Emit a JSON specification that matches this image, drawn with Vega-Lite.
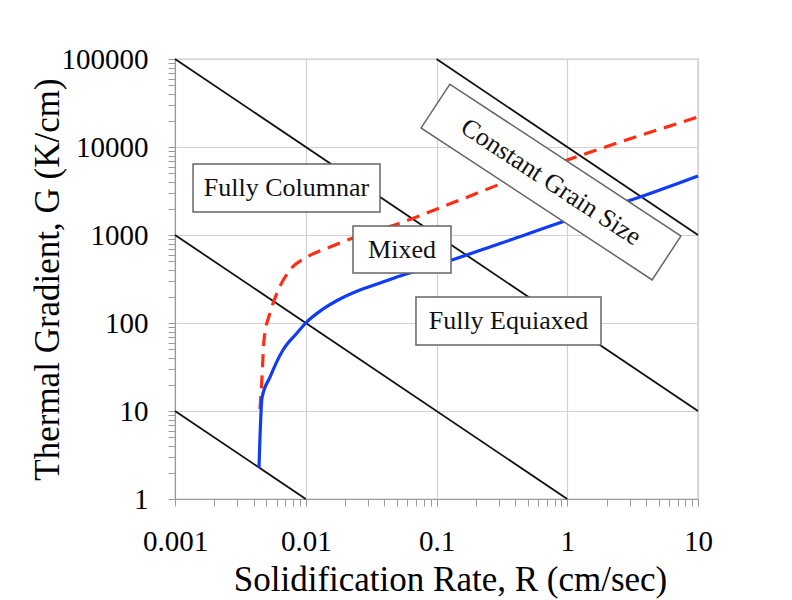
{
  "$schema": "https://vega.github.io/schema/vega-lite/v6.json",
  "width": 523,
  "height": 440,
  "autosize": {"type": "none"},
  "padding": {"left": 175, "top": 59, "right": 94, "bottom": 101},
  "background": "white",
  "config": {
    "view": {"stroke": "#9a9a9a", "strokeWidth": 1.2},
    "font": "Liberation Serif"
  },
  "datasets": {
    "lines": [
      {"grp": "a", "R": 0.001, "G": 100000}, {"grp": "a", "R": 10, "G": 10},
      {"grp": "b", "R": 0.001, "G": 1000}, {"grp": "b", "R": 1, "G": 1},
      {"grp": "c", "R": 0.001, "G": 10}, {"grp": "c", "R": 0.01, "G": 1},
      {"grp": "d", "R": 0.1, "G": 100000}, {"grp": "d", "R": 10, "G": 1000}
    ],
    "blue": [
      {"R": 0.004389, "G": 2.25}, {"R": 0.004628, "G": 14.06}, {"R": 0.005328, "G": 24.3},
      {"R": 0.006699, "G": 49.3}, {"R": 0.008573, "G": 76.9}, {"R": 0.01, "G": 100},
      {"R": 0.01355, "G": 144}, {"R": 0.01828, "G": 187.5}, {"R": 0.026, "G": 237},
      {"R": 0.03698, "G": 284.8}, {"R": 0.0526, "G": 342}, {"R": 0.1, "G": 456},
      {"R": 0.306, "G": 800}, {"R": 1, "G": 1469},
      {"R": 3.6, "G": 2700}, {"R": 10, "G": 4680}
    ],
    "red": [
      {"R": 0.004467, "G": 10.5}, {"R": 0.004628, "G": 24.3}, {"R": 0.004795, "G": 64.1},
      {"R": 0.005328, "G": 130}, {"R": 0.006026, "G": 219}, {"R": 0.007576, "G": 400},
      {"R": 0.01022, "G": 562}, {"R": 0.01533, "G": 731}, {"R": 0.02298, "G": 925},
      {"R": 0.0526, "G": 1368}, {"R": 0.1512, "G": 2500}, {"R": 0.3226, "G": 3898},
      {"R": 1, "G": 7117}, {"R": 10, "G": 21930}
    ],
    "boxes": [
      {"label": "Fully Columnar", "R": 0.001374, "R2": 0.03697, "G": 1824, "G2": 6412},
      {"label": "Mixed", "R": 0.02298, "R2": 0.1291, "G": 370, "G2": 1265},
      {"label": "Fully Equiaxed", "R": 0.06965, "R2": 1.8118, "G": 56.2, "G2": 197.5}
    ],
    "labels": [
      {"label": "Fully Columnar", "R": 0.007127, "G": 3420},
      {"label": "Mixed", "R": 0.05446, "G": 684},
      {"label": "Fully Equiaxed", "R": 0.3554, "G": 105.4}
    ],
    "rotated": [
      {"label": "Constant Grain Size", "R": 0.751, "G": 3998}
    ]
  },
  "encoding": {
    "x": {
      "field": "R",
      "type": "quantitative",
      "scale": {"type": "log", "domain": [0.001, 10], "nice": false},
      "axis": {
        "title": "Solidification Rate, R (cm/sec)",
        "values": [0.001, 0.002, 0.003, 0.004, 0.005, 0.006, 0.007, 0.008, 0.009,
                   0.01, 0.02, 0.03, 0.04, 0.05, 0.06, 0.07, 0.08, 0.09,
                   0.1, 0.2, 0.3, 0.4, 0.5, 0.6, 0.7, 0.8, 0.9,
                   1, 2, 3, 4, 5, 6, 7, 8, 9, 10],
        "format": "~g",
        "labelExpr": "abs(log(datum.value)/LN10 - round(log(datum.value)/LN10)) < 1e-6 ? datum.label : ''",
        "labelFont": "Liberation Serif",
        "labelFontSize": 29,
        "labelColor": "#000000",
        "labelPadding": 21,
        "labelFlush": false,
        "labelOverlap": false,
        "labelBound": false,
        "tickSize": 7,
        "tickColor": "#9a9a9a",
        "domainColor": "#9a9a9a",
        "grid": true,
        "gridColor": "#d2d2d2",
        "gridWidth": 1.2,
        "gridOpacity": {"condition": {"test": "abs(log(datum.value)/LN10 - round(log(datum.value)/LN10)) < 1e-6", "value": 1}, "value": 0},
        "titleFont": "Liberation Serif",
        "titleFontSize": 35,
        "titleFontWeight": "normal",
        "titleColor": "#000000",
        "titleX": 275,
        "titleY": 91,
        "titleAlign": "center",
        "titleBaseline": "alphabetic"
      }
    },
    "y": {
      "field": "G",
      "type": "quantitative",
      "scale": {"type": "log", "domain": [1, 100000], "nice": false},
      "axis": {
        "title": "Thermal Gradient, G (K/cm)",
        "values": [1, 2, 3, 4, 5, 6, 7, 8, 9,
                   10, 20, 30, 40, 50, 60, 70, 80, 90,
                   100, 200, 300, 400, 500, 600, 700, 800, 900,
                   1000, 2000, 3000, 4000, 5000, 6000, 7000, 8000, 9000,
                   10000, 20000, 30000, 40000, 50000, 60000, 70000, 80000, 90000, 100000],
        "format": "~g",
        "labelExpr": "abs(log(datum.value)/LN10 - round(log(datum.value)/LN10)) < 1e-6 ? datum.label : ''",
        "labelFont": "Liberation Serif",
        "labelFontSize": 29,
        "labelColor": "#000000",
        "labelPadding": 20,
        "labelFlush": false,
        "labelOverlap": false,
        "labelBound": false,
        "tickSize": 7,
        "tickColor": "#9a9a9a",
        "domainColor": "#9a9a9a",
        "grid": true,
        "gridColor": "#d2d2d2",
        "gridWidth": 1.2,
        "gridOpacity": {"condition": {"test": "abs(log(datum.value)/LN10 - round(log(datum.value)/LN10)) < 1e-6", "value": 1}, "value": 0},
        "titleFont": "Liberation Serif",
        "titleFontSize": 35,
        "titleFontWeight": "normal",
        "titleColor": "#000000",
        "titleAngle": -90,
        "titleX": -117,
        "titleY": 220,
        "titleAlign": "center",
        "titleBaseline": "alphabetic"
      }
    }
  },
  "layer": [
    {
      "data": {"name": "lines"},
      "mark": {"type": "line", "color": "#111111", "strokeWidth": 1.8},
      "encoding": {"detail": {"field": "grp", "type": "nominal"}}
    },
    {
      "data": {"name": "red"},
      "mark": {"type": "line", "color": "#ff2d14", "strokeWidth": 3.2, "strokeDash": [13, 8], "interpolate": "monotone"},
      "encoding": {}
    },
    {
      "data": {"name": "blue"},
      "mark": {"type": "line", "color": "#0f3cf5", "strokeWidth": 3.2, "interpolate": "monotone"},
      "encoding": {}
    },
    {
      "data": {"name": "boxes"},
      "mark": {"type": "rect", "fill": "white", "stroke": "#666666", "strokeWidth": 1.5},
      "encoding": {
        "x2": {"field": "R2"},
        "y2": {"field": "G2"}
      }
    },
    {
      "data": {"name": "rotated"},
      "mark": {
        "type": "point",
        "shape": "M-1,-0.1895L1,-0.1895L1,0.1895L-1,0.1895Z",
        "size": 76452,
        "angle": 33.3,
        "fill": "white",
        "fillOpacity": 1,
        "stroke": "#666666",
        "strokeWidth": 1.5,
        "opacity": 1,
        "filled": false
      },
      "encoding": {}
    },
    {
      "data": {"name": "labels"},
      "mark": {"type": "text", "font": "Liberation Serif", "fontSize": 26, "color": "#111111", "align": "center", "baseline": "middle"},
      "encoding": {"text": {"field": "label"}}
    },
    {
      "data": {"name": "rotated"},
      "mark": {"type": "text", "font": "Liberation Serif", "fontSize": 26, "color": "#111111", "align": "center", "baseline": "middle", "angle": 33.3},
      "encoding": {"text": {"field": "label"}}
    }
  ]
}
